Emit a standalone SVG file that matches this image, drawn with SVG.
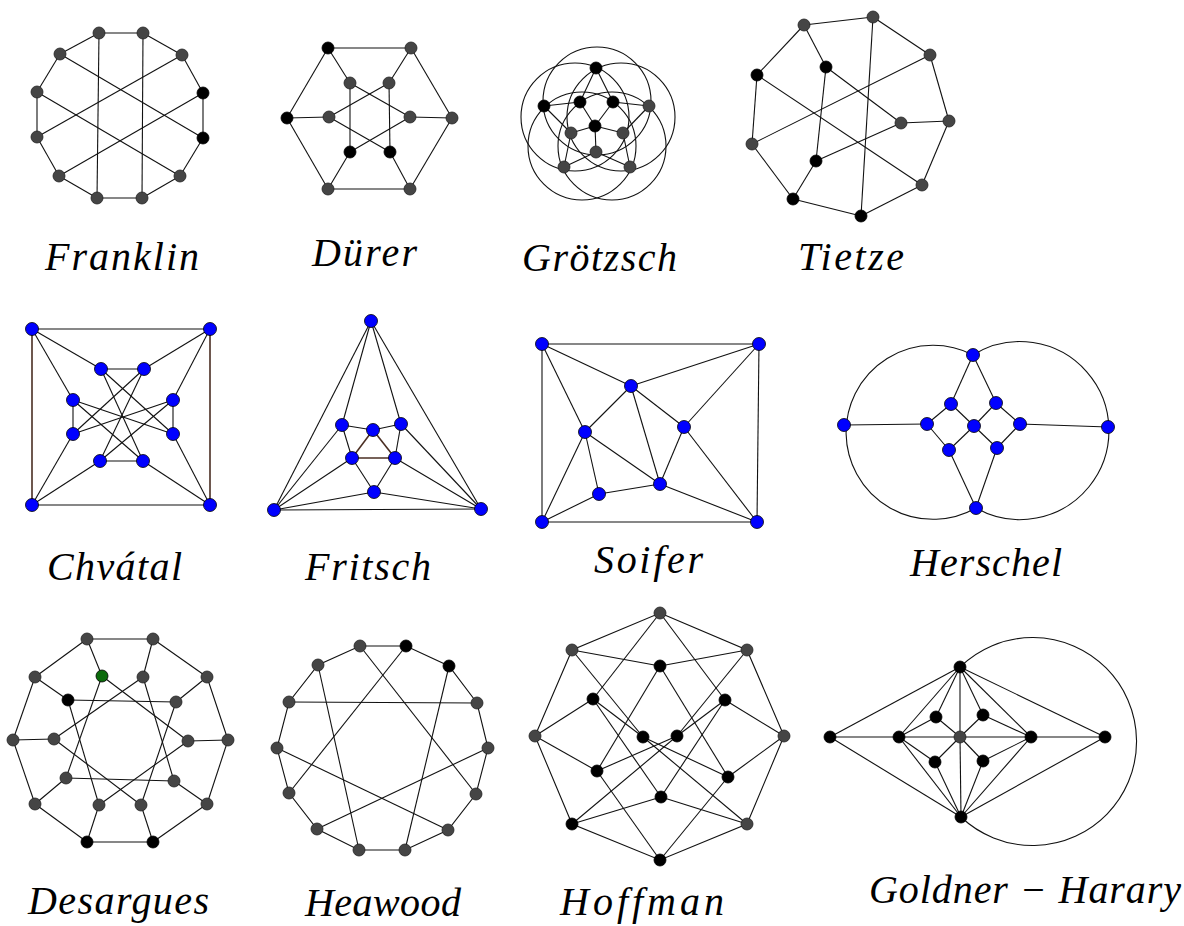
<svg xmlns="http://www.w3.org/2000/svg" width="1184" height="926" viewBox="0 0 1184 926">
<style>
.e{stroke:#111;stroke-width:1.1;fill:none}
.br{stroke:#4a2e22;stroke-width:1.6}
.g circle{fill:#454545;stroke:#222;stroke-width:0.8}
.k circle{fill:#000;stroke:#000;stroke-width:0.8}
.b circle{fill:#0000ff;stroke:#000;stroke-width:0.8}
.gr circle{fill:#0b6b0b;stroke:#000;stroke-width:0.8}
.lbl{font-family:"Liberation Serif",serif;font-style:italic;font-size:40px;fill:#000}
</style>
<rect width="1184" height="926" fill="#fff"/>

<!-- Franklin -->
<g id="franklin">
<g id="franklin-edges" class="e">
<line x1="99" y1="33" x2="143" y2="33"/><line x1="143" y1="33" x2="182" y2="55"/><line x1="182" y1="55" x2="203" y2="93"/><line x1="203" y1="93" x2="203" y2="138"/><line x1="203" y1="138" x2="180" y2="176"/><line x1="180" y1="176" x2="142" y2="198"/><line x1="142" y1="198" x2="97" y2="198"/><line x1="97" y1="198" x2="59" y2="176"/><line x1="59" y1="176" x2="37" y2="137"/><line x1="37" y1="137" x2="37" y2="92"/><line x1="37" y1="92" x2="60" y2="54"/><line x1="60" y1="54" x2="99" y2="33"/>
<line x1="99" y1="33" x2="97" y2="198"/><line x1="143" y1="33" x2="142" y2="198"/><line x1="60" y1="54" x2="203" y2="138"/><line x1="182" y1="55" x2="37" y2="137"/><line x1="37" y1="92" x2="180" y2="176"/><line x1="203" y1="93" x2="59" y2="176"/>
</g>
<g id="fr1" class="g"><circle cx="99" cy="33" r="6"/></g>
<g id="fr2" class="g"><circle cx="143" cy="33" r="6"/></g>
<g id="fr3" class="g"><circle cx="60" cy="54" r="6"/></g>
<g id="fr4" class="g"><circle cx="182" cy="55" r="6"/></g>
<g id="fr5" class="g"><circle cx="37" cy="92" r="6"/></g>
<g id="fr6" class="k"><circle cx="203" cy="93" r="6"/></g>
<g id="fr7" class="g"><circle cx="37" cy="137" r="6"/></g>
<g id="fr8" class="k"><circle cx="203" cy="138" r="6"/></g>
<g id="fr9" class="g"><circle cx="59" cy="176" r="6"/></g>
<g id="fr10" class="g"><circle cx="180" cy="176" r="6"/></g>
<g id="fr11" class="g"><circle cx="97" cy="198" r="6"/></g>
<g id="fr12" class="g"><circle cx="142" cy="198" r="6"/></g>
<text class="lbl" x="45" y="270" textLength="154" lengthAdjust="spacing">Franklin</text>
</g>

<!-- Durer -->
<g id="durer">
<g id="durer-edges" class="e">
<line x1="328" y1="48" x2="411" y2="48"/><line x1="411" y1="48" x2="452" y2="118"/><line x1="452" y1="118" x2="410" y2="189"/><line x1="410" y1="189" x2="328" y2="189"/><line x1="328" y1="189" x2="287" y2="118"/><line x1="287" y1="118" x2="328" y2="48"/>
<line x1="328" y1="48" x2="350" y2="83"/><line x1="411" y1="48" x2="389" y2="83"/><line x1="287" y1="118" x2="329" y2="117"/><line x1="452" y1="118" x2="410" y2="117"/><line x1="328" y1="189" x2="350" y2="152"/><line x1="410" y1="189" x2="390" y2="152"/>
<line x1="350" y1="83" x2="350" y2="152"/><line x1="389" y1="83" x2="390" y2="152"/><line x1="350" y1="83" x2="410" y2="117"/><line x1="389" y1="83" x2="329" y2="117"/><line x1="329" y1="117" x2="390" y2="152"/><line x1="410" y1="117" x2="350" y2="152"/>
</g>
<g id="du1" class="k"><circle cx="328" cy="48" r="6"/></g>
<g id="du2" class="g"><circle cx="411" cy="48" r="6"/></g>
<g id="du3" class="g"><circle cx="350" cy="83" r="6"/></g>
<g id="du4" class="g"><circle cx="389" cy="83" r="6"/></g>
<g id="du5" class="k"><circle cx="287" cy="118" r="6"/></g>
<g id="du6" class="g"><circle cx="329" cy="117" r="6"/></g>
<g id="du7" class="g"><circle cx="410" cy="117" r="6"/></g>
<g id="du8" class="g"><circle cx="452" cy="118" r="6"/></g>
<g id="du9" class="k"><circle cx="350" cy="152" r="6"/></g>
<g id="du10" class="k"><circle cx="390" cy="152" r="6"/></g>
<g id="du11" class="g"><circle cx="328" cy="189" r="6"/></g>
<g id="du12" class="g"><circle cx="410" cy="189" r="6"/></g>
<text class="lbl" x="312" y="266" textLength="105" lengthAdjust="spacing">Dürer</text>
</g>

<!-- Grotzsch -->
<g id="grotzsch">
<g id="grotzsch-edges" class="e">
<circle cx="597" cy="101" r="54"/><circle cx="575" cy="117" r="54"/><circle cx="621" cy="117" r="54"/><circle cx="582" cy="146" r="54"/><circle cx="612" cy="146" r="54"/>
<line x1="596" y1="68" x2="580" y2="102"/><line x1="596" y1="68" x2="613" y2="102"/><line x1="544" y1="106" x2="580" y2="102"/><line x1="544" y1="106" x2="571" y2="133"/><line x1="649" y1="106" x2="613" y2="102"/><line x1="649" y1="106" x2="623" y2="133"/><line x1="564" y1="167" x2="571" y2="133"/><line x1="564" y1="167" x2="596" y2="152"/><line x1="630" y1="167" x2="623" y2="133"/><line x1="630" y1="167" x2="596" y2="152"/>
<line x1="595" y1="126" x2="580" y2="102"/><line x1="595" y1="126" x2="613" y2="102"/><line x1="595" y1="126" x2="571" y2="133"/><line x1="595" y1="126" x2="623" y2="133"/><line x1="595" y1="126" x2="596" y2="152"/>
</g>
<g id="gr1" class="k"><circle cx="596" cy="68" r="6"/></g>
<g id="gr2" class="k"><circle cx="544" cy="106" r="6"/></g>
<g id="gr3" class="k"><circle cx="580" cy="102" r="6"/></g>
<g id="gr4" class="k"><circle cx="613" cy="102" r="6"/></g>
<g id="gr5" class="g"><circle cx="649" cy="106" r="6"/></g>
<g id="gr6" class="k"><circle cx="595" cy="126" r="6"/></g>
<g id="gr7" class="g"><circle cx="571" cy="133" r="6"/></g>
<g id="gr8" class="g"><circle cx="623" cy="133" r="6"/></g>
<g id="gr9" class="g"><circle cx="596" cy="152" r="6"/></g>
<g id="gr10" class="g"><circle cx="564" cy="167" r="6"/></g>
<g id="gr11" class="g"><circle cx="630" cy="167" r="6"/></g>
<text class="lbl" x="522" y="271" textLength="155" lengthAdjust="spacing">Grötzsch</text>
</g>

<!-- Tietze -->
<g id="tietze">
<g id="tietze-edges" class="e">
<line x1="804" y1="25" x2="873" y2="17"/><line x1="873" y1="17" x2="930" y2="55"/><line x1="930" y1="55" x2="949" y2="121"/><line x1="949" y1="121" x2="922" y2="185"/><line x1="922" y1="185" x2="861" y2="216"/><line x1="861" y1="216" x2="793" y2="199"/><line x1="793" y1="199" x2="752" y2="144"/><line x1="752" y1="144" x2="757" y2="75"/><line x1="757" y1="75" x2="804" y2="25"/>
<line x1="804" y1="25" x2="826" y2="67"/><line x1="826" y1="67" x2="816" y2="161"/><line x1="816" y1="161" x2="793" y2="199"/><line x1="826" y1="67" x2="901" y2="123"/><line x1="901" y1="123" x2="949" y2="121"/><line x1="901" y1="123" x2="816" y2="161"/>
<line x1="873" y1="17" x2="861" y2="216"/><line x1="930" y1="55" x2="752" y2="144"/><line x1="757" y1="75" x2="922" y2="185"/>
</g>
<g id="ti1" class="g"><circle cx="804" cy="25" r="6"/></g>
<g id="ti2" class="g"><circle cx="873" cy="17" r="6"/></g>
<g id="ti3" class="g"><circle cx="930" cy="55" r="6"/></g>
<g id="ti4" class="k"><circle cx="826" cy="67" r="6"/></g>
<g id="ti5" class="k"><circle cx="757" cy="75" r="6"/></g>
<g id="ti6" class="g"><circle cx="901" cy="123" r="6"/></g>
<g id="ti7" class="g"><circle cx="949" cy="121" r="6"/></g>
<g id="ti8" class="g"><circle cx="752" cy="144" r="6"/></g>
<g id="ti9" class="k"><circle cx="816" cy="161" r="6"/></g>
<g id="ti10" class="g"><circle cx="922" cy="185" r="6"/></g>
<g id="ti11" class="k"><circle cx="793" cy="199" r="6"/></g>
<g id="ti12" class="k"><circle cx="861" cy="216" r="6"/></g>
<text class="lbl" x="798" y="270" textLength="106" lengthAdjust="spacing">Tietze</text>
</g>

<!-- Chvatal -->
<g id="chvatal">
<g id="chvatal-edges" class="e">
<line x1="32" y1="329" x2="210" y2="329"/><line x1="32" y1="505" x2="210" y2="505"/><line class="br" x1="32" y1="329" x2="32" y2="505"/><line class="br" x1="210" y1="329" x2="210" y2="505"/>
<line x1="32" y1="329" x2="101" y2="369"/><line x1="32" y1="329" x2="73" y2="400"/><line x1="210" y1="329" x2="144" y2="369"/><line x1="210" y1="329" x2="173" y2="400"/><line x1="32" y1="505" x2="73" y2="434"/><line x1="32" y1="505" x2="100" y2="461"/><line x1="210" y1="505" x2="173" y2="434"/><line x1="210" y1="505" x2="143" y2="461"/>
<line x1="101" y1="369" x2="144" y2="369"/><line x1="73" y1="400" x2="73" y2="434"/><line x1="173" y1="400" x2="173" y2="434"/><line x1="100" y1="461" x2="143" y2="461"/>
<line x1="101" y1="369" x2="173" y2="434"/><line x1="101" y1="369" x2="143" y2="461"/><line x1="73" y1="400" x2="173" y2="434"/><line x1="73" y1="400" x2="143" y2="461"/><line x1="144" y1="369" x2="100" y2="461"/><line x1="144" y1="369" x2="73" y2="434"/><line x1="173" y1="400" x2="73" y2="434"/><line x1="173" y1="400" x2="100" y2="461"/>
</g>
<g id="ch1" class="b"><circle cx="32" cy="329" r="6.5"/></g>
<g id="ch2" class="b"><circle cx="210" cy="329" r="6.5"/></g>
<g id="ch3" class="b"><circle cx="101" cy="369" r="6.5"/></g>
<g id="ch4" class="b"><circle cx="144" cy="369" r="6.5"/></g>
<g id="ch5" class="b"><circle cx="73" cy="400" r="6.5"/></g>
<g id="ch6" class="b"><circle cx="173" cy="400" r="6.5"/></g>
<g id="ch7" class="b"><circle cx="73" cy="434" r="6.5"/></g>
<g id="ch8" class="b"><circle cx="173" cy="434" r="6.5"/></g>
<g id="ch9" class="b"><circle cx="100" cy="461" r="6.5"/></g>
<g id="ch10" class="b"><circle cx="143" cy="461" r="6.5"/></g>
<g id="ch11" class="b"><circle cx="32" cy="505" r="6.5"/></g>
<g id="ch12" class="b"><circle cx="210" cy="505" r="6.5"/></g>
<text class="lbl" x="47" y="580" textLength="135" lengthAdjust="spacing">Chvátal</text>
</g>

<!-- Fritsch -->
<g id="fritsch">
<g id="fritsch-edges" class="e">
<line x1="371" y1="321" x2="274" y2="510"/><line x1="371" y1="321" x2="481" y2="509"/><line x1="371" y1="321" x2="342" y2="425"/><line x1="371" y1="321" x2="401" y2="424"/>
<line x1="274" y1="510" x2="481" y2="509"/><line x1="274" y1="510" x2="342" y2="425"/><line x1="274" y1="510" x2="352" y2="458"/><line x1="274" y1="510" x2="374" y2="492"/>
<line x1="481" y1="509" x2="401" y2="424"/><line x1="481" y1="509" x2="395" y2="458"/><line x1="481" y1="509" x2="374" y2="492"/>
<line x1="342" y1="425" x2="373" y2="430"/><line x1="373" y1="430" x2="401" y2="424"/><line x1="342" y1="425" x2="352" y2="458"/><line x1="401" y1="424" x2="395" y2="458"/><line x1="352" y1="458" x2="374" y2="492"/><line x1="395" y1="458" x2="374" y2="492"/>
<line class="br" x1="373" y1="430" x2="352" y2="458"/><line class="br" x1="373" y1="430" x2="395" y2="458"/><line class="br" x1="352" y1="458" x2="395" y2="458"/>
</g>
<g id="fs1" class="b"><circle cx="371" cy="321" r="6.5"/></g>
<g id="fs2" class="b"><circle cx="342" cy="425" r="6.5"/></g>
<g id="fs3" class="b"><circle cx="373" cy="430" r="6.5"/></g>
<g id="fs4" class="b"><circle cx="401" cy="424" r="6.5"/></g>
<g id="fs5" class="b"><circle cx="352" cy="458" r="6.5"/></g>
<g id="fs6" class="b"><circle cx="395" cy="458" r="6.5"/></g>
<g id="fs7" class="b"><circle cx="374" cy="492" r="6.5"/></g>
<g id="fs8" class="b"><circle cx="274" cy="510" r="6.5"/></g>
<g id="fs9" class="b"><circle cx="481" cy="509" r="6.5"/></g>
<text class="lbl" x="305" y="580" textLength="126" lengthAdjust="spacing">Fritsch</text>
</g>

<!-- Soifer -->
<g id="soifer">
<g id="soifer-edges" class="e">
<line x1="542" y1="344" x2="759" y2="344"/><line x1="542" y1="344" x2="542" y2="522"/><line x1="759" y1="344" x2="757" y2="522"/><line x1="542" y1="522" x2="757" y2="522"/>
<line x1="542" y1="344" x2="631" y2="386"/><line x1="542" y1="344" x2="585" y2="432"/><line x1="759" y1="344" x2="631" y2="386"/><line x1="759" y1="344" x2="684" y2="427"/>
<line x1="631" y1="386" x2="585" y2="432"/><line x1="631" y1="386" x2="684" y2="427"/><line x1="631" y1="386" x2="660" y2="484"/>
<line x1="585" y1="432" x2="660" y2="484"/><line x1="585" y1="432" x2="599" y2="494"/><line x1="585" y1="432" x2="542" y2="522"/>
<line x1="684" y1="427" x2="660" y2="484"/><line x1="684" y1="427" x2="757" y2="522"/><line x1="599" y1="494" x2="660" y2="484"/><line x1="599" y1="494" x2="542" y2="522"/><line x1="660" y1="484" x2="757" y2="522"/>
</g>
<g id="so1" class="b"><circle cx="542" cy="344" r="6.5"/></g>
<g id="so2" class="b"><circle cx="759" cy="344" r="6.5"/></g>
<g id="so3" class="b"><circle cx="631" cy="386" r="6.5"/></g>
<g id="so4" class="b"><circle cx="684" cy="427" r="6.5"/></g>
<g id="so5" class="b"><circle cx="585" cy="432" r="6.5"/></g>
<g id="so6" class="b"><circle cx="660" cy="484" r="6.5"/></g>
<g id="so7" class="b"><circle cx="599" cy="494" r="6.5"/></g>
<g id="so8" class="b"><circle cx="542" cy="522" r="6.5"/></g>
<g id="so9" class="b"><circle cx="757" cy="522" r="6.5"/></g>
<text class="lbl" x="594" y="573" textLength="109" lengthAdjust="spacing">Soifer</text>
</g>

<!-- Herschel -->
<g id="herschel">
<g id="herschel-edges" class="e">
<path d="M973,355 A87,87 0 1 0 976,508"/><path d="M973,355 A89,89 0 1 1 976,508"/>
<line x1="844" y1="425" x2="927" y2="424"/><line x1="1020" y1="424" x2="1108" y2="427"/>
<line x1="973" y1="355" x2="951" y2="404"/><line x1="973" y1="355" x2="996" y2="403"/>
<line x1="951" y1="404" x2="927" y2="424"/><line x1="951" y1="404" x2="974" y2="426"/><line x1="996" y1="403" x2="974" y2="426"/><line x1="996" y1="403" x2="1020" y2="424"/>
<line x1="927" y1="424" x2="949" y2="450"/><line x1="949" y1="450" x2="974" y2="426"/><line x1="974" y1="426" x2="997" y2="448"/><line x1="997" y1="448" x2="1020" y2="424"/>
<line x1="949" y1="450" x2="976" y2="508"/><line x1="997" y1="448" x2="976" y2="508"/>
</g>
<g id="he1" class="b"><circle cx="973" cy="355" r="6.5"/></g>
<g id="he2" class="b"><circle cx="844" cy="425" r="6.5"/></g>
<g id="he3" class="b"><circle cx="927" cy="424" r="6.5"/></g>
<g id="he4" class="b"><circle cx="951" cy="404" r="6.5"/></g>
<g id="he5" class="b"><circle cx="996" cy="403" r="6.5"/></g>
<g id="he6" class="b"><circle cx="974" cy="426" r="6.5"/></g>
<g id="he7" class="b"><circle cx="1020" cy="424" r="6.5"/></g>
<g id="he8" class="b"><circle cx="949" cy="450" r="6.5"/></g>
<g id="he9" class="b"><circle cx="997" cy="448" r="6.5"/></g>
<g id="he10" class="b"><circle cx="1108" cy="427" r="6.5"/></g>
<g id="he11" class="b"><circle cx="976" cy="508" r="6.5"/></g>
<text class="lbl" x="910" y="576" textLength="152" lengthAdjust="spacing">Herschel</text>
</g>

<!-- Desargues -->
<g id="desargues">
<g id="desargues-edges" class="e">
<line x1="87" y1="639" x2="153" y2="639"/><line x1="153" y1="639" x2="207" y2="677"/><line x1="207" y1="677" x2="228" y2="740"/><line x1="228" y1="740" x2="207" y2="804"/><line x1="207" y1="804" x2="153" y2="842"/><line x1="153" y1="842" x2="87" y2="842"/><line x1="87" y1="842" x2="35" y2="804"/><line x1="35" y1="804" x2="13" y2="740"/><line x1="13" y1="740" x2="35" y2="677"/><line x1="35" y1="677" x2="87" y2="639"/>
<line x1="87" y1="639" x2="102" y2="676"/><line x1="153" y1="639" x2="143" y2="677"/><line x1="207" y1="677" x2="176" y2="702"/><line x1="228" y1="740" x2="188" y2="741"/><line x1="207" y1="804" x2="174" y2="781"/><line x1="153" y1="842" x2="141" y2="805"/><line x1="87" y1="842" x2="99" y2="805"/><line x1="35" y1="804" x2="66" y2="778"/><line x1="13" y1="740" x2="54" y2="739"/><line x1="35" y1="677" x2="68" y2="700"/>
<line x1="102" y1="676" x2="188" y2="741"/><line x1="143" y1="677" x2="174" y2="781"/><line x1="176" y1="702" x2="141" y2="805"/><line x1="188" y1="741" x2="99" y2="805"/><line x1="174" y1="781" x2="66" y2="778"/><line x1="141" y1="805" x2="54" y2="739"/><line x1="99" y1="805" x2="68" y2="700"/><line x1="66" y1="778" x2="102" y2="676"/><line x1="54" y1="739" x2="143" y2="677"/><line x1="68" y1="700" x2="176" y2="702"/>
</g>
<g id="de1" class="g"><circle cx="87" cy="639" r="6"/></g>
<g id="de2" class="g"><circle cx="153" cy="639" r="6"/></g>
<g id="de3" class="g"><circle cx="207" cy="677" r="6"/></g>
<g id="de4" class="g"><circle cx="228" cy="740" r="6"/></g>
<g id="de5" class="g"><circle cx="207" cy="804" r="6"/></g>
<g id="de6" class="k"><circle cx="153" cy="842" r="6"/></g>
<g id="de7" class="k"><circle cx="87" cy="842" r="6"/></g>
<g id="de8" class="g"><circle cx="35" cy="804" r="6"/></g>
<g id="de9" class="g"><circle cx="13" cy="740" r="6"/></g>
<g id="de10" class="g"><circle cx="35" cy="677" r="6"/></g>
<g id="de11" class="gr"><circle cx="102" cy="676" r="6"/></g>
<g id="de12" class="g"><circle cx="143" cy="677" r="6"/></g>
<g id="de13" class="g"><circle cx="176" cy="702" r="6"/></g>
<g id="de14" class="g"><circle cx="188" cy="741" r="6"/></g>
<g id="de15" class="g"><circle cx="174" cy="781" r="6"/></g>
<g id="de16" class="g"><circle cx="141" cy="805" r="6"/></g>
<g id="de17" class="g"><circle cx="99" cy="805" r="6"/></g>
<g id="de18" class="g"><circle cx="66" cy="778" r="6"/></g>
<g id="de19" class="g"><circle cx="54" cy="739" r="6"/></g>
<g id="de20" class="k"><circle cx="68" cy="700" r="6"/></g>
<text class="lbl" x="28" y="914" textLength="181" lengthAdjust="spacing">Desargues</text>
</g>

<!-- Heawood -->
<g id="heawood">
<g id="heawood-edges" class="e">
<polygon points="360,646 406,646 449,666 477,703 488,748 476,794 448,830 405,850 359,850 317,829 289,793 277,748 289,702 318,665"/>
<line x1="360" y1="646" x2="476" y2="794"/><line x1="406" y1="646" x2="289" y2="793"/><line x1="318" y1="665" x2="359" y2="850"/><line x1="449" y1="666" x2="405" y2="850"/><line x1="289" y1="702" x2="477" y2="703"/><line x1="277" y1="748" x2="448" y2="830"/><line x1="488" y1="748" x2="317" y2="829"/>
</g>
<g id="hw1" class="g"><circle cx="360" cy="646" r="6"/></g>
<g id="hw2" class="k"><circle cx="406" cy="646" r="6"/></g>
<g id="hw3" class="k"><circle cx="449" cy="666" r="6"/></g>
<g id="hw4" class="g"><circle cx="477" cy="703" r="6"/></g>
<g id="hw5" class="g"><circle cx="488" cy="748" r="6"/></g>
<g id="hw6" class="g"><circle cx="476" cy="794" r="6"/></g>
<g id="hw7" class="g"><circle cx="448" cy="830" r="6"/></g>
<g id="hw8" class="g"><circle cx="405" cy="850" r="6"/></g>
<g id="hw9" class="g"><circle cx="359" cy="850" r="6"/></g>
<g id="hw10" class="g"><circle cx="317" cy="829" r="6"/></g>
<g id="hw11" class="g"><circle cx="289" cy="793" r="6"/></g>
<g id="hw12" class="g"><circle cx="277" cy="748" r="6"/></g>
<g id="hw13" class="g"><circle cx="289" cy="702" r="6"/></g>
<g id="hw14" class="g"><circle cx="318" cy="665" r="6"/></g>
<text class="lbl" x="305" y="916" textLength="156" lengthAdjust="spacing">Heawood</text>
</g>

<!-- Hoffman -->
<g id="hoffman">
<g id="hoffman-edges" class="e">
<polygon points="660,613 747,650 784,736 747,824 660,860 572,824 535,736 572,650"/>
<line x1="660" y1="613" x2="593" y2="699"/><line x1="660" y1="613" x2="725" y2="700"/><line x1="535" y1="736" x2="593" y2="699"/><line x1="535" y1="736" x2="597" y2="771"/><line x1="784" y1="736" x2="725" y2="700"/><line x1="784" y1="736" x2="728" y2="777"/><line x1="660" y1="860" x2="597" y2="771"/><line x1="660" y1="860" x2="728" y2="777"/>
<line x1="572" y1="650" x2="660" y2="666"/><line x1="747" y1="650" x2="660" y2="666"/><line x1="572" y1="824" x2="661" y2="797"/><line x1="747" y1="824" x2="661" y2="797"/>
<line x1="660" y1="666" x2="597" y2="771"/><line x1="660" y1="666" x2="728" y2="777"/><line x1="661" y1="797" x2="593" y2="699"/><line x1="661" y1="797" x2="725" y2="700"/>
<line x1="643" y1="737" x2="593" y2="699"/><line x1="643" y1="737" x2="572" y2="650"/><line x1="643" y1="737" x2="747" y2="824"/><line x1="677" y1="736" x2="725" y2="700"/><line x1="677" y1="736" x2="747" y2="650"/><line x1="677" y1="736" x2="572" y2="824"/>
<line x1="643" y1="737" x2="728" y2="777"/><line x1="677" y1="736" x2="597" y2="771"/>
</g>
<g id="ho1" class="g"><circle cx="660" cy="613" r="6"/></g>
<g id="ho2" class="g"><circle cx="572" cy="650" r="6"/></g>
<g id="ho3" class="g"><circle cx="747" cy="650" r="6"/></g>
<g id="ho4" class="k"><circle cx="660" cy="666" r="6"/></g>
<g id="ho5" class="k"><circle cx="593" cy="699" r="6"/></g>
<g id="ho6" class="k"><circle cx="725" cy="700" r="6"/></g>
<g id="ho7" class="g"><circle cx="535" cy="736" r="6"/></g>
<g id="ho8" class="k"><circle cx="643" cy="737" r="6"/></g>
<g id="ho9" class="k"><circle cx="677" cy="736" r="6"/></g>
<g id="ho10" class="g"><circle cx="784" cy="736" r="6"/></g>
<g id="ho11" class="k"><circle cx="597" cy="771" r="6"/></g>
<g id="ho12" class="k"><circle cx="728" cy="777" r="6"/></g>
<g id="ho13" class="k"><circle cx="661" cy="797" r="6"/></g>
<g id="ho14" class="k"><circle cx="572" cy="824" r="6"/></g>
<g id="ho15" class="g"><circle cx="747" cy="824" r="6"/></g>
<g id="ho16" class="k"><circle cx="660" cy="860" r="6"/></g>
<text class="lbl" x="560" y="915" textLength="164" lengthAdjust="spacing">Hoffman</text>
</g>

<!-- Goldner-Harary -->
<g id="goldner-harary">
<g id="goldner-harary-edges" class="e">
<path d="M960,667 A104,104 0 1 1 961,817"/>
<line x1="960" y1="667" x2="830" y2="737"/><line x1="960" y1="667" x2="899" y2="737"/><line x1="960" y1="667" x2="936" y2="717"/><line x1="960" y1="667" x2="960" y2="737"/><line x1="960" y1="667" x2="983" y2="715"/><line x1="960" y1="667" x2="1031" y2="737"/><line x1="960" y1="667" x2="1105" y2="737"/>
<line x1="961" y1="817" x2="830" y2="737"/><line x1="961" y1="817" x2="899" y2="737"/><line x1="961" y1="817" x2="935" y2="762"/><line x1="961" y1="817" x2="960" y2="737"/><line x1="961" y1="817" x2="983" y2="761"/><line x1="961" y1="817" x2="1031" y2="737"/><line x1="961" y1="817" x2="1105" y2="737"/>
<line x1="830" y1="737" x2="1105" y2="737"/>
<line x1="899" y1="737" x2="936" y2="717"/><line x1="936" y1="717" x2="960" y2="737"/><line x1="983" y1="715" x2="960" y2="737"/><line x1="983" y1="715" x2="1031" y2="737"/><line x1="899" y1="737" x2="935" y2="762"/><line x1="935" y1="762" x2="960" y2="737"/><line x1="960" y1="737" x2="983" y2="761"/><line x1="983" y1="761" x2="1031" y2="737"/>
</g>
<g id="gh1" class="k"><circle cx="960" cy="667" r="6"/></g>
<g id="gh2" class="k"><circle cx="830" cy="737" r="6"/></g>
<g id="gh3" class="k"><circle cx="899" cy="737" r="6"/></g>
<g id="gh4" class="g"><circle cx="960" cy="737" r="6"/></g>
<g id="gh5" class="k"><circle cx="1031" cy="737" r="6"/></g>
<g id="gh6" class="k"><circle cx="1105" cy="737" r="6"/></g>
<g id="gh7" class="k"><circle cx="936" cy="717" r="6"/></g>
<g id="gh8" class="k"><circle cx="983" cy="715" r="6"/></g>
<g id="gh9" class="k"><circle cx="935" cy="762" r="6"/></g>
<g id="gh10" class="k"><circle cx="983" cy="761" r="6"/></g>
<g id="gh11" class="k"><circle cx="961" cy="817" r="6"/></g>
<text class="lbl" x="869" y="903" textLength="312" lengthAdjust="spacing">Goldner − Harary</text>
</g>
</svg>
